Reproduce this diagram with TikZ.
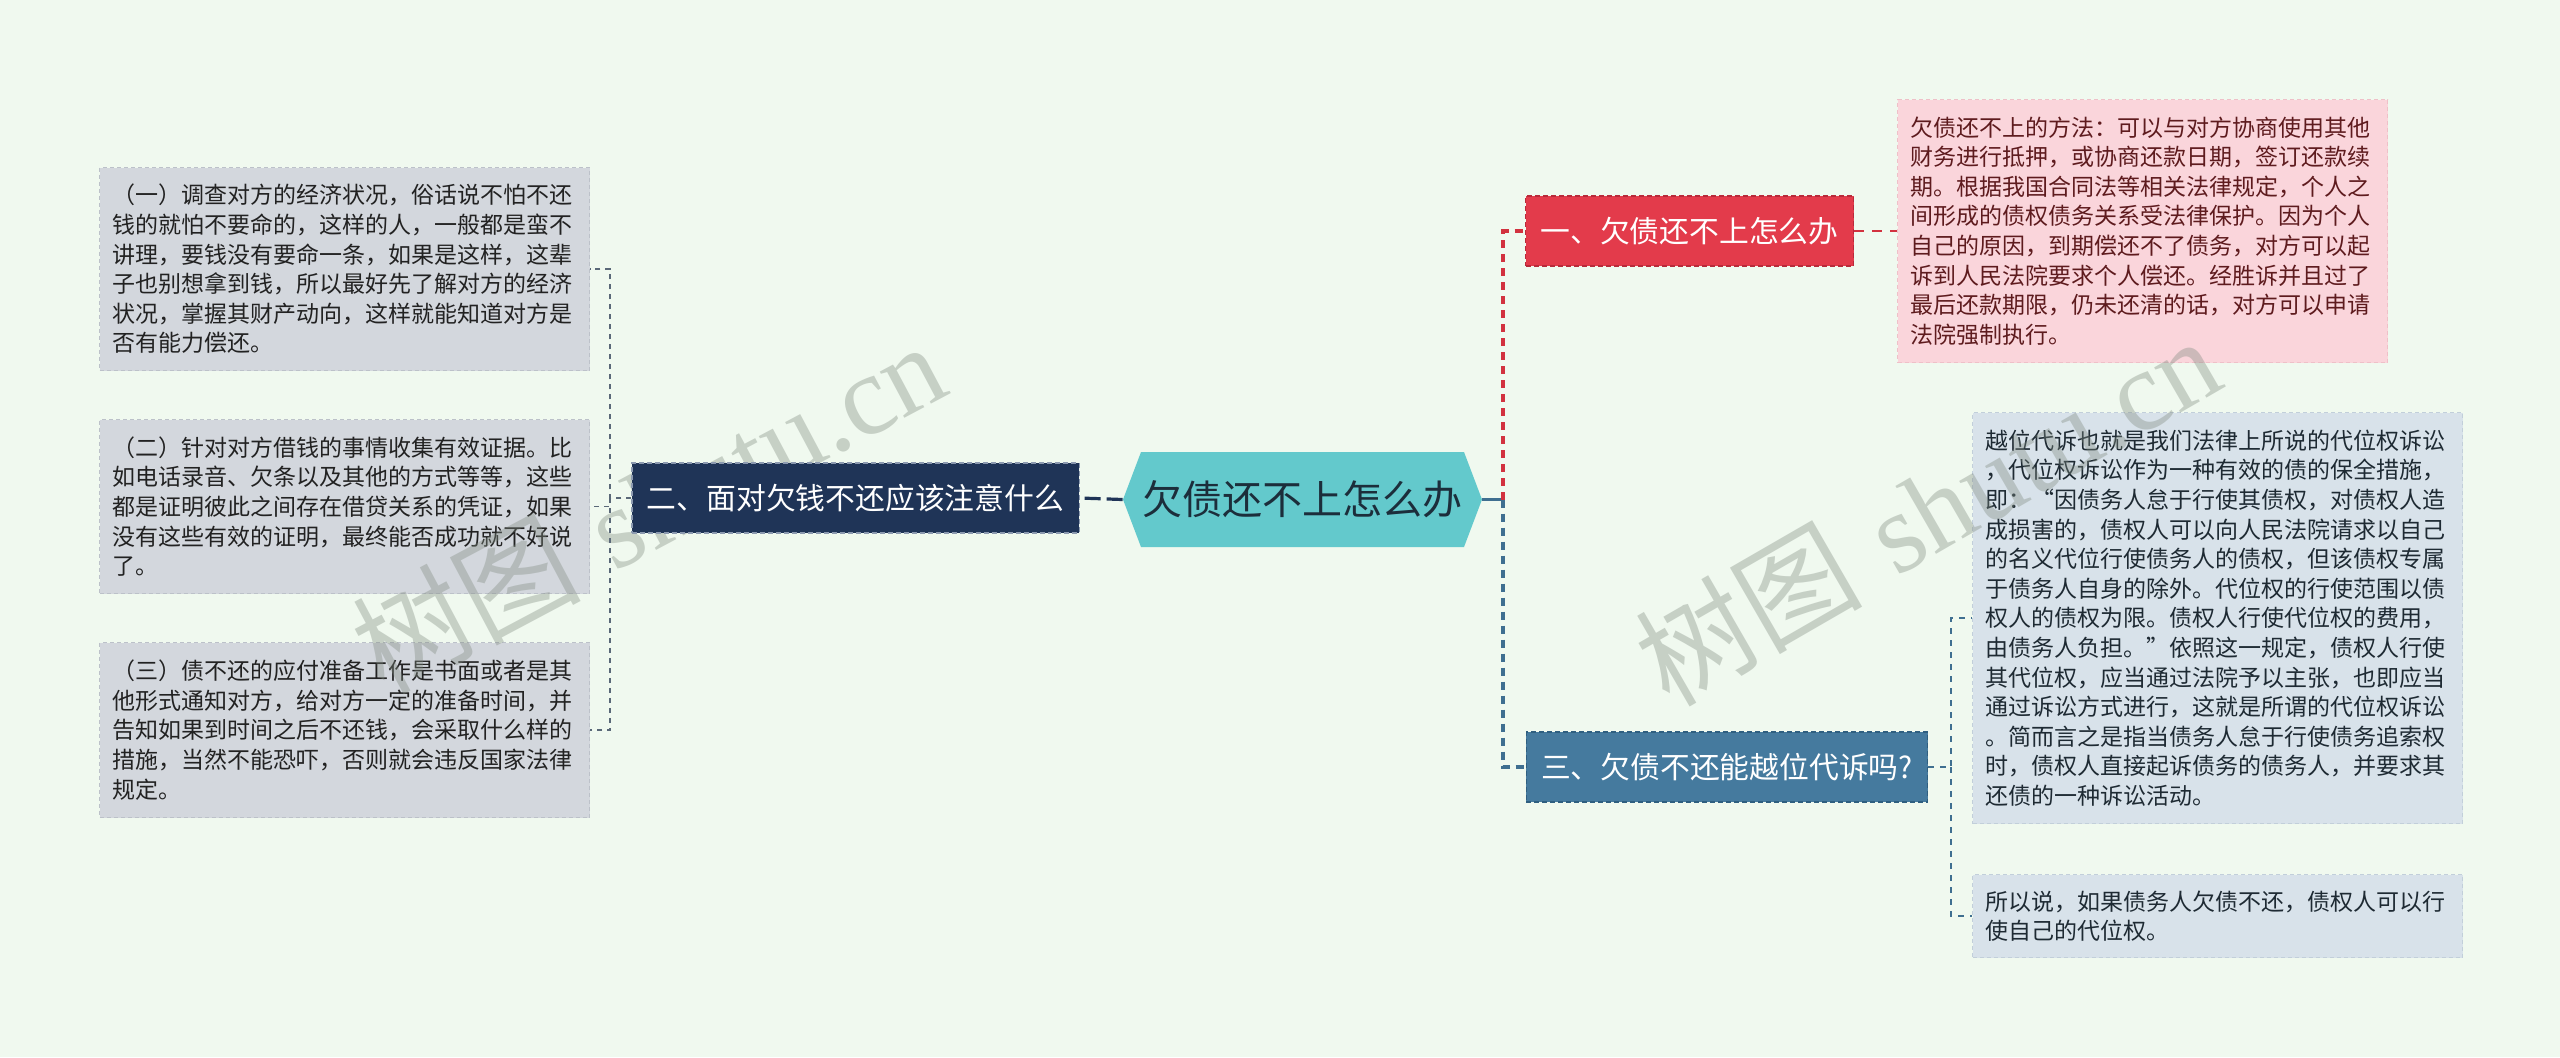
\documentclass[tikz,border=0pt]{standalone}
\usepackage{fontspec}
\setmainfont{Noto Sans CJK SC}
\newfontfamily\wmlatin{Liberation Serif}
\usetikzlibrary{calc}
\definecolor{bgc}{HTML}{F0F9EF}
\definecolor{grayc}{HTML}{D3D7DD}
\definecolor{grayb}{HTML}{BCC1C9}
\definecolor{grayt}{HTML}{222222}
\definecolor{pinkc}{HTML}{FAD5DB}
\definecolor{pinkb}{HTML}{EFC0C8}
\definecolor{pinkt}{HTML}{5E1B1E}
\definecolor{bluelc}{HTML}{D8E2EA}
\definecolor{bluelb}{HTML}{C2CFDA}
\definecolor{bluelt}{HTML}{1E2A33}
\definecolor{redc}{HTML}{E33B4B}
\definecolor{redb}{HTML}{B82A3A}
\definecolor{steelc}{HTML}{457A9E}
\definecolor{steelb}{HTML}{2F5F80}
\definecolor{navyc}{HTML}{1F3457}
\definecolor{navyb}{HTML}{8C9AB0}
\definecolor{tealc}{HTML}{63C9CC}
\definecolor{centert}{HTML}{1C2E3B}
\definecolor{redline}{HTML}{D2323F}
\definecolor{blueline}{HTML}{3F6F90}
\definecolor{grayline}{HTML}{5A6878}
\definecolor{wmc}{HTML}{7F8A7F}
\begin{document}
\begin{tikzpicture}[x=0.5pt,y=-0.5pt,
  leafbase/.style={anchor=north west, align=left, text width=232pt, inner xsep=6.5pt, inner ysep=0pt,
    font=\fontsize{11.5pt}{14.8pt}\selectfont, dash pattern=on 2pt off 1.5pt, line width=0.5pt},
  grayleaf/.style={leafbase, fill=grayc, draw=grayb, text=grayt},
  pinkleaf/.style={leafbase, fill=pinkc, draw=pinkb, text=pinkt},
  blueleaf/.style={leafbase, fill=bluelc, draw=bluelb, text=bluelt},
  branchbox/.style={minimum height=35pt, inner xsep=7.5pt, inner ysep=0pt, text=white,
    font=\fontsize{14.9pt}{18pt}\selectfont, dash pattern=on 2.5pt off 1.5pt, line width=0.6pt},
  redbranch/.style={branchbox, fill=redc, draw=redb},
  steelbranch/.style={branchbox, fill=steelc, draw=steelb},
  navybranch/.style={branchbox, fill=navyc, draw=navyb},
  centernode/.style={minimum width=179.5pt, minimum height=47.5pt, inner sep=0pt, fill=bgc,
    font=\fontsize{20pt}{24pt}\selectfont, text=centert,
    path picture={\fill[tealc] ([xshift=9pt]path picture bounding box.north west)
      -- ([xshift=-9pt]path picture bounding box.north east)
      -- (path picture bounding box.east)
      -- ([xshift=-9pt]path picture bounding box.south east)
      -- ([xshift=9pt]path picture bounding box.south west)
      -- (path picture bounding box.west) -- cycle;}},
  trunkred/.style={draw=redline, line width=1.6pt, dash pattern=on 4pt off 3pt},
  trunkblue/.style={draw=blueline, line width=1.6pt, dash pattern=on 4pt off 3pt},
  trunksolid/.style={draw=blueline, line width=1.6pt},
  navyconn/.style={draw=navyc, line width=1.6pt, dash pattern=on 8pt off 3pt},
  redthin/.style={draw=redline, line width=0.9pt, dash pattern=on 5pt off 4pt},
  bluethin/.style={draw=blueline, line width=0.9pt, dash pattern=on 3pt off 3pt},
  graythin/.style={draw=grayline, line width=0.8pt, dash pattern=on 2.5pt off 2.5pt},
  watermark/.style={text=wmc, text opacity=0.37, font=\fontsize{57pt}{60pt}\selectfont, inner sep=0pt}
]
\fill[bgc] (0,0) rectangle (2560,1057);
\useasboundingbox (0,0) rectangle (2560,1057);

% left leaves
\node[grayleaf, minimum height=101.5pt] (l1) at (99,167) {（一）调查对方的经济状况，俗话说不怕不还\\钱的就怕不要命的，这样的人，一般都是蛮不\\讲理，要钱没有要命一条，如果是这样，这辈\\子也别想拿到钱，所以最好先了解对方的经济\\状况，掌握其财产动向，这样就能知道对方是\\否有能力偿还。};
\node[grayleaf, minimum height=87pt] (l2) at (99,419) {（二）针对对方借钱的事情收集有效证据。比\\如电话录音、欠条以及其他的方式等等，这些\\都是证明彼此之间存在借贷关系的凭证，如果\\没有这些有效的证明，最终能否成功就不好说\\了。};
\node[grayleaf, minimum height=87.5pt] (l3) at (99,642) {（三）债不还的应付准备工作是书面或者是其\\他形式通知对方，给对方一定的准备时间，并\\告知如果到时间之后不还钱，会采取什么样的\\措施，当然不能恐吓，否则就会违反国家法律\\规定。};

% right leaves
\node[pinkleaf, minimum height=131.5pt] (p1) at (1897,99) {欠债还不上的方法：可以与对方协商使用其他\\财务进行抵押，或协商还款日期，签订还款续\\期。根据我国合同法等相关法律规定，个人之\\间形成的债权债务关系受法律保护。因为个人\\自己的原因，到期偿还不了债务，对方可以起\\诉到人民法院要求个人偿还。经胜诉并且过了\\最后还款期限，仍未还清的话，对方可以申请\\法院强制执行。};
\node[blueleaf, minimum height=205.5pt] (la) at (1972,412) {越位代诉也就是我们法律上所说的代位权诉讼\\，代位权诉讼作为一种有效的债的保全措施，\\即：“因债务人怠于行使其债权，对债权人造\\成损害的，债权人可以向人民法院请求以自己\\的名义代位行使债务人的债权，但该债权专属\\于债务人自身的除外。代位权的行使范围以债\\权人的债权为限。债权人行使代位权的费用，\\由债务人负担。”依照这一规定，债权人行使\\其代位权，应当通过法院予以主张，也即应当\\通过诉讼方式进行，这就是所谓的代位权诉讼\\。简而言之是指当债务人怠于行使债务追索权\\时，债权人直接起诉债务的债务人，并要求其\\还债的一种诉讼活动。};
\node[blueleaf, minimum height=41.5pt] (lb) at (1972,874) {所以说，如果债务人欠债不还，债权人可以行\\使自己的代位权。};

% watermarks (over the light leaves, under the branch boxes)
\node[watermark, rotate=28] (wm1) at (648,506) {树图\hspace{0.3em}{\wmlatin shutu.cn}};
\node[watermark, rotate=30] (wm2) at (1927,510) {树图\hspace{0.3em}{\wmlatin shutu.cn}};

% branches
\node[navybranch] (b2) at (855.5,498) {二、面对欠钱不还应该注意什么};
\node[redbranch] (b1) at (1689.5,231) {一、欠债还不上怎么办};
\node[steelbranch] (b3) at (1727,767) {三、欠债不还能越位代诉吗?};

% center
\node[centernode] (c) at (1302.5,499.5) {欠债还不上怎么办};

% connectors
\coordinate (tr) at (1503,499.5);
\coordinate (lk) at (610,498);
\coordinate (rk) at (1951,767);
\draw[navyconn] (c.west) -- (b2.east);
\draw[trunksolid] (c.east) -- (tr);
\draw[trunkred] (tr) |- (b1.west);
\draw[trunkblue] (tr) |- (b3.west);
\draw[redthin] (b1.east) -- (p1.west);
\draw[bluethin] (b3.east) -- (rk) |- (la.west);
\draw[bluethin] (rk) |- (lb.west);
\draw[graythin] (b2.west) -- (lk) |- (l1.east);
\draw[graythin] (lk) |- (l2.east);
\draw[graythin] (lk) |- (l3.east);
\end{tikzpicture}
\end{document}
